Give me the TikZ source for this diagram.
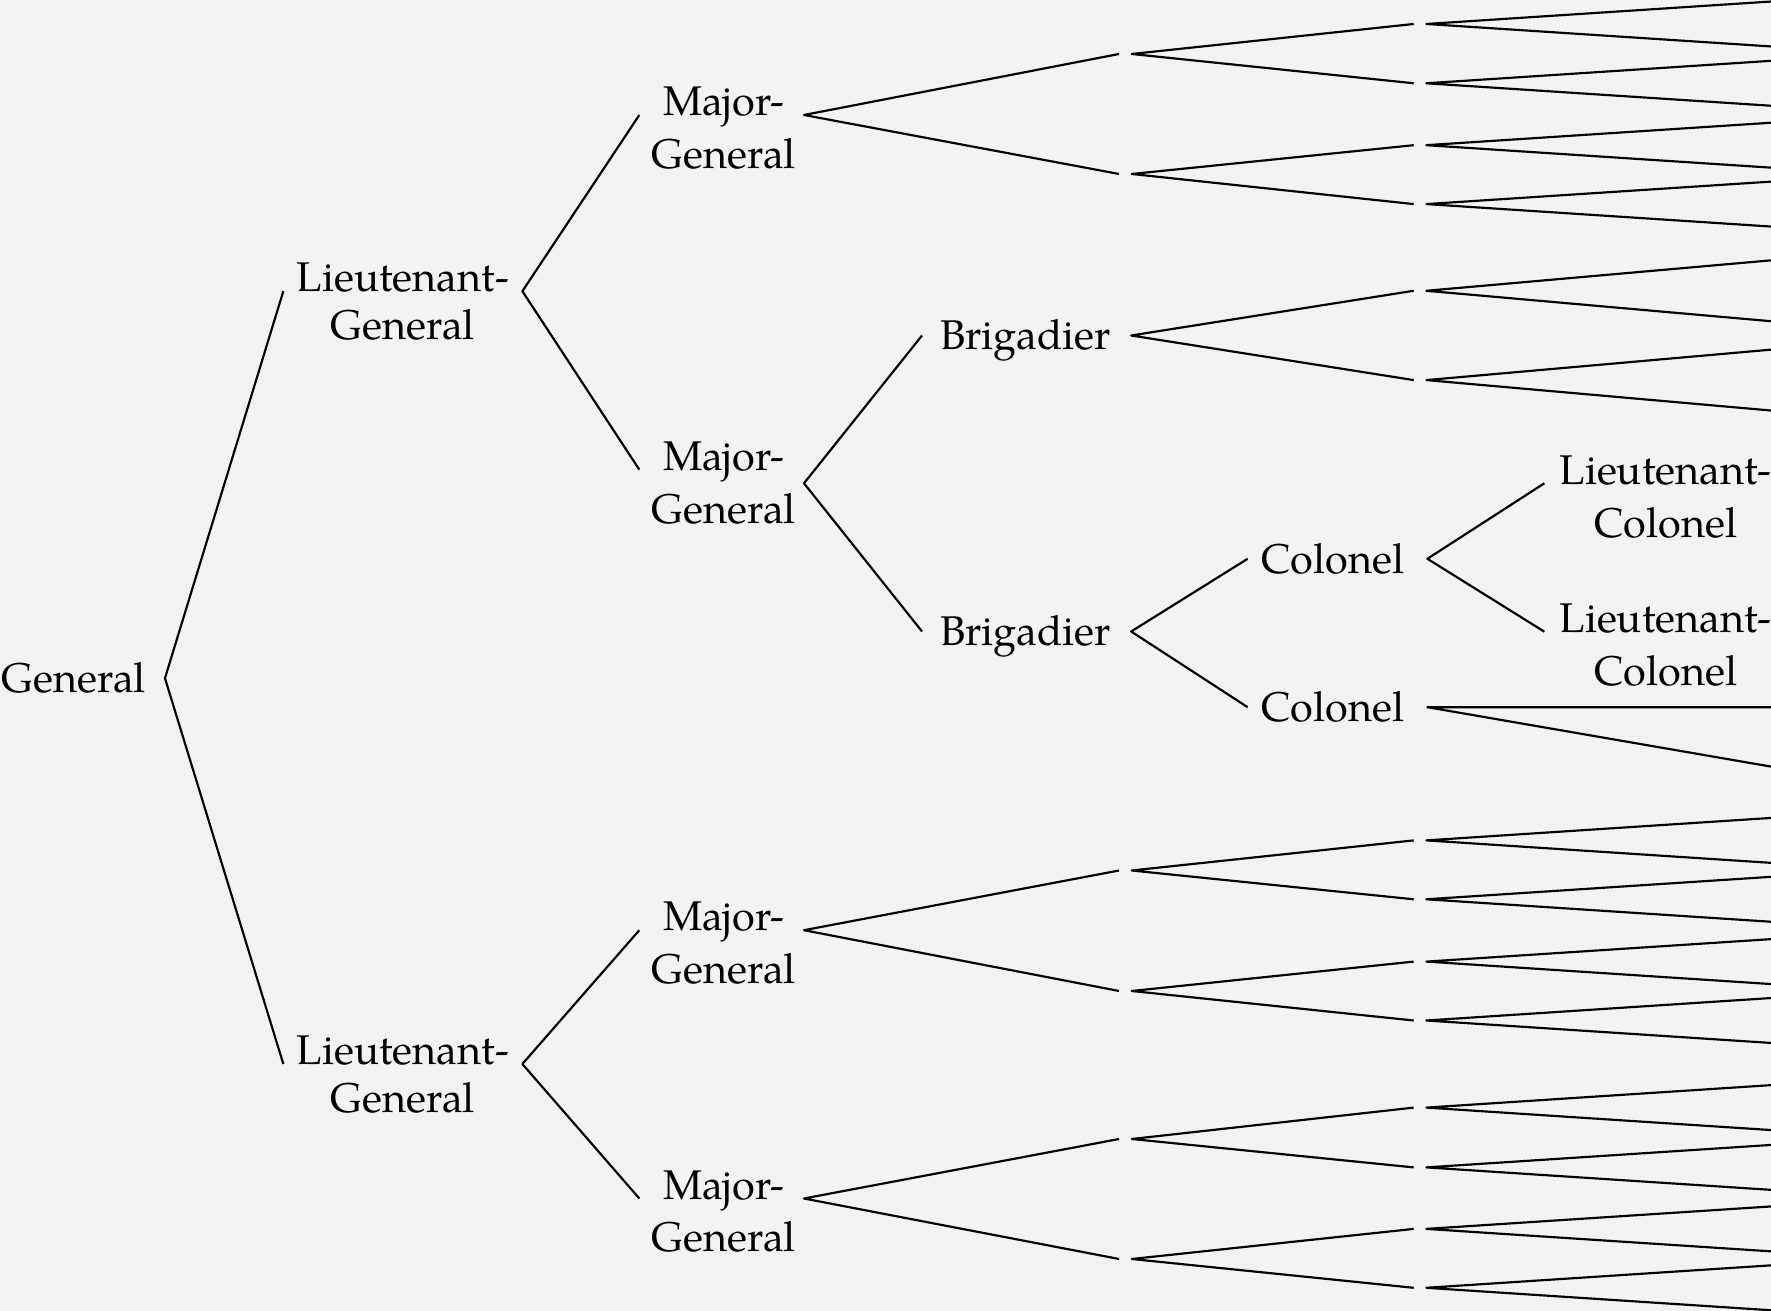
\documentclass[tikz,border=0pt]{standalone}
\usepackage{fontspec}
\setmainfont{texgyrepagella-regular.otf}
\usetikzlibrary{calc}
\definecolor{paper}{RGB}{242,242,242}
\newcommand\twoline[3]{\begin{tabular}[t]{@{}c@{}}#1\\[#3]#2\end{tabular}}
\begin{document}
\begin{tikzpicture}[x=0.3pt,y=-0.3pt,
  conn/.style={line width=0.65pt, line join=round, draw=black},
  lbl/.style={inner sep=0pt, anchor=base, font=\fontsize{12.45}{14.19}\selectfont, text depth=0pt},
  onebox/.style={lbl, text height=8.7pt},
  twobox/.style={lbl, text height=0.48pt},
  genbox/.style={onebox, minimum width=54.24pt},
  ltgbox/.style={twobox, minimum width=71.31pt},
  mjgbox/.style={twobox, minimum width=48.99pt},
  brgbox/.style={onebox, minimum width=62.34pt},
  colbox/.style={onebox, minimum width=53.52pt},
  ltcbox/.style={twobox, minimum width=72.48pt},
  blank/.style={inner sep=0pt, minimum width=3.39pt, minimum height=0pt, text height=0pt, text depth=0pt}
]
\useasboundingbox (0,0) rectangle (1771,1311);
\fill[paper] (0,0) rectangle (1771,1311);
\clip (0,0) rectangle (1771,1311);

% labelled nodes
\node[genbox] (gen) at (73.9,692.7) {General};
\node[ltgbox] (lg1) at (402.85,292) {\twoline{Lieutenant-}{General}{0pt}};
\node[ltgbox] (lg2) at (402.85,1064.8) {\twoline{Lieutenant-}{General}{0pt}};
\node[mjgbox] (mg1) at (721.65,115.8) {\kern1.29pt\twoline{Major-}{General}{1.59pt}};
\node[mjgbox] (mg2) at (721.65,470.5) {\kern1.29pt\twoline{Major-}{General}{1.59pt}};
\node[mjgbox] (mg3) at (721.65,931) {\kern1.29pt\twoline{Major-}{General}{1.59pt}};
\node[mjgbox] (mg4) at (721.65,1199.3) {\kern1.29pt\twoline{Major-}{General}{1.59pt}};
\node[brgbox] (brig1) at (1026.6,350) {Brigadier\kern0.72pt};
\node[brgbox] (brig2) at (1026.6,646) {Brigadier\kern0.72pt};
\node[colbox] (col1) at (1337.5,573.3) {Colonel\kern2.7pt};
\node[colbox] (col2) at (1337.5,721.7) {Colonel\kern2.7pt};
\node[ltcbox] (lc1) at (1665.8,484.1) {\twoline{Lieutenant-}{Colonel}{1.83pt}};
\node[ltcbox] (lc2) at (1665.8,632.5) {\twoline{Lieutenant-}{Colonel}{1.83pt}};

% unlabelled nodes
\foreach \n/\yy in {a/54,b/174,c/870.5,d/991,e/1139,f/1259}
  \node[blank] (\n) at (1125.35,\yy) {};
\foreach \n/\yy in {a1/24,a2/83.3,b1/145.2,b2/204.1,p1/290.8,p2/380.1,
                    c1/840.4,c2/899.3,d1/961.6,d2/1020.5,e1/1107.6,e2/1167.4,f1/1228.9,f2/1287.8}
  \node[blank] (\n) at (1420,\yy) {};

% connectors
\draw[conn] (lg1.west) -- (gen.east) -- (lg2.west);
\draw[conn] (mg1.west) -- (lg1.east) -- (mg2.west);
\draw[conn] (mg3.west) -- (lg2.east) -- (mg4.west);
\draw[conn] (a.west) -- (mg1.east) -- (b.west);
\draw[conn] (brig1.west) -- ($(mg2.east)+(0,13.6)$) -- (brig2.west);
\draw[conn] (c.west) -- (mg3.east) -- (d.west);
\draw[conn] (e.west) -- (mg4.east) -- (f.west);
\foreach \p in {a,b,c,d,e,f}
  \draw[conn] (\p1.west) -- (\p.east) -- (\p2.west);
\draw[conn] (p1.west) -- (brig1.east) -- (p2.west);
\draw[conn] (col1.west) -- (brig2.east) -- (col2.west);
\draw[conn] (lc1.west) -- (col1.east) -- (lc2.west);
\coordinate (col2-r) at ($(col2.east)+(380,0)$);
\coordinate (col2-d) at ($(col2.east)+(380,65.7)$);
\draw[conn] (col2-r) -- (col2.east) -- (col2-d);
\foreach \n/\s in {a1/24.76,a2/24.76,b1/24.76,b2/24.76,c1/24.76,c2/24.76,d1/24.76,d2/24.76,
                   e1/24.76,e2/24.76,f1/24.76,f2/24.76,p1/33.56,p2/33.56}{
  \coordinate (\n-u) at ($(\n.east)+(380,-\s)$);
  \coordinate (\n-d) at ($(\n.east)+(380,\s)$);
  \draw[conn] (\n-u) -- (\n.east) -- (\n-d);
}
\end{tikzpicture}
\end{document}
